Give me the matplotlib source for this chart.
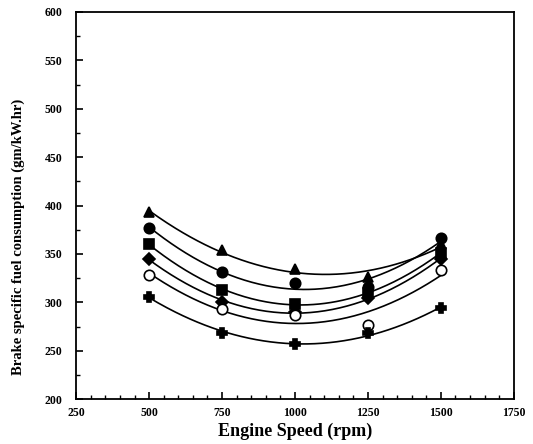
import numpy as np
import matplotlib.pyplot as plt

# Datos
velocidad = np.array([500, 750, 1000, 1250, 1500])
bsfc_triangulo = np.array([393, 354, 334, 326, 360])
bsfc_circulo = np.array([377, 331, 320, 316, 366])
bsfc_cuadrado = np.array([360, 313, 298, 310, 351])
bsfc_rombo = np.array([345, 300, 290, 304, 345])
bsfc_circulo_abierto = np.array([328, 293, 287, 277, 333])
bsfc_cruz = np.array([306, 268, 257, 268, 294])

series = [
    (bsfc_triangulo, "^", "k"),
    (bsfc_circulo, "o", "k"),
    (bsfc_cuadrado, "s", "k"),
    (bsfc_rombo, "D", "k"),
    (bsfc_circulo_abierto, "o", "white"),
    (bsfc_cruz, "P", "k"),
]

plt.rcParams["font.family"] = ["Liberation Serif", "DejaVu Serif"]

fig = plt.figure(figsize=(5.33, 4.44), dpi=100)
ax = fig.add_axes([0.143, 0.101, 0.821, 0.872])

xs = np.linspace(500, 1500, 200)
for valores, marcador, relleno in series:
    coef = np.polyfit(velocidad, valores, 2)
    ax.plot(xs, np.polyval(coef, xs), color="k", lw=1.2, zorder=2)
    ms = 7.5 if marcador != "D" else 6.5
    ax.plot(velocidad, valores, linestyle="none", marker=marcador, ms=ms,
            mfc=relleno, mec="k", mew=1.2, zorder=3)

ax.set_xlim(250, 1750)
ax.set_ylim(200, 600)
ax.set_xticks(np.arange(250, 1751, 250))
ax.set_yticks(np.arange(200, 601, 50))
ax.set_xticks(np.arange(250, 1751, 50), minor=True)
ax.set_yticks(np.arange(200, 601, 25), minor=True)
ax.tick_params(which="both", direction="in", top=False, right=False)
ax.tick_params(which="major", length=5, width=1.2, labelsize=8.5)
ax.tick_params(axis="y", which="major", pad=10)
ax.tick_params(axis="x", which="major", pad=6)
ax.tick_params(which="minor", length=3, width=1)
for lab in ax.get_xticklabels() + ax.get_yticklabels():
    lab.set_fontweight("bold")
for s in ax.spines.values():
    s.set_linewidth(1.3)

ax.set_xlabel("Engine Speed (rpm)", fontsize=13, fontweight="bold", labelpad=2)
ax.set_ylabel("Brake specific fuel consumption (gm/kW.hr)", fontsize=10.5,
              fontweight="bold")
ax.yaxis.set_label_coords(-0.118, 0.42)

plt.savefig("out.png", dpi=100)
